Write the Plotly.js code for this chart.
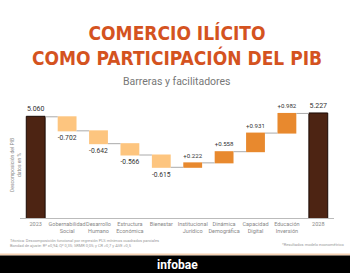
<!DOCTYPE html>
<html><head><meta charset="utf-8">
<script src="https://cdn.plot.ly/plotly-3.0.1.min.js"></script>
<style>html,body{margin:0;padding:0;background:#fff;}#c{width:350px;height:273px;}</style>
</head><body><div id="c"></div>
<script>
const categories = ["2023","Gobernabilidad<br>Social","Desarrollo<br>Humano","Estructura<br>Económica","Bienestar","Institucional<br>Jurídico","Dinámica<br>Demográfica","Capacidad<br>Digital","Educación<br>Inversión","2028"];
const measures = ["absolute","relative","relative","relative","relative","relative","relative","relative","relative","absolute"];
const values = [5.060,-0.702,-0.642,-0.566,-0.615,0.222,0.558,0.931,0.982,5.227];
const labels = ["5.060","-0.702","-0.642","-0.566","-0.615","+0.222","+0.558","+0.931","+0.982","5.227"];

const trace = {
  type: "waterfall",
  x: categories,
  y: values,
  measure: measures,
  text: labels,
  textposition: "outside",
  textfont: {family: "Roboto, sans-serif", size: 7, color: "#333"},
  cliponaxis: false,
  width: 0.6,
  increasing: {marker: {color: "#e8892e", line: {color: "#e8892e", width: 0}}},
  decreasing: {marker: {color: "#fdc57f", line: {color: "#fdc57f", width: 0}}},
  totals: {marker: {color: "#4d2413", line: {color: "#1a0a05", width: 1}}},
  connector: {line: {color: "#aaaaaa", width: 1}},
  hoverinfo: "none"
};

const ph = 118;
const pxY = (py) => (218 - py) / ph; // page pixel y -> paper fraction

const layout = {
  width: 350, height: 273,
  margin: {l: 20, r: 16, t: 100, b: 55},
  paper_bgcolor: "#ffffff", plot_bgcolor: "#ffffff",
  showlegend: false,
  font: {family: "Roboto, sans-serif"},
  xaxis: {
    tickfont: {size: 5.5, color: "#888"},
    showgrid: false, showline: true, linecolor: "#bbbbbb", linewidth: 1,
    ticks: "", fixedrange: true, tickangle: 0
  },
  yaxis: {
    range: [0, 5.9], showgrid: false, zeroline: false, showticklabels: false,
    fixedrange: true
  },
  annotations: [
    {xref: "paper", yref: "paper", x: 0.5, xanchor: "center", y: 1, yanchor: "middle", yshift: 55, showarrow: false,
     text: "<b>COMERCIO ILÍCITO<br>COMO PARTICIPACIÓN DEL PIB</b>",
     font: {family: "DejaVu Sans Condensed, Roboto, sans-serif", size: 19, color: "#d4531f"}},
    {xref: "paper", yref: "paper", x: 0.5, xanchor: "center", y: 1, yanchor: "middle", yshift: 19, showarrow: false,
     text: "Barreras y facilitadores", font: {family: "Roboto, sans-serif", size: 10.5, color: "#777"}},
    {xref: "paper", yref: "paper", x: 0, xanchor: "center", y: pxY(165), yanchor: "middle", xshift: -5, showarrow: false,
     textangle: -90, text: "Descomposición del PIB<br>datos en %", font: {size: 5, color: "#888"}},
    {xref: "paper", yref: "paper", x: 0, xanchor: "left", y: 0, yanchor: "top", xshift: -12, yshift: -18, showarrow: false, align: "left",
     text: "Técnica: Descomposición funcional por regresión PLS mínimos cuadrados parciales<br>Bondad de ajuste: R² =0,94; Q² 0,35; SRMR 0,05; y CR >0,7 y AVE >0,5",
     font: {size: 4, color: "#999"}},
    {xref: "paper", yref: "paper", x: 1, xanchor: "right", y: 0, yanchor: "top", xshift: 12, yshift: -22, showarrow: false,
     text: "*Resultados modelo econométrico", font: {size: 4, color: "#999"}},
    {xref: "paper", yref: "paper", x: 0.5, xanchor: "center", y: pxY(264.5), yanchor: "middle", showarrow: false,
     text: "<b>infobae</b>", font: {family: "Roboto, sans-serif", size: 12, color: "#ffffff"}}
  ],
  shapes: [
    {type: "rect", xref: "paper", yref: "paper", x0: -20/314, x1: 336/314, y0: pxY(253.5), y1: pxY(255.5), line: {width: 0}, fillcolor: "#f6d2b3"},
    {type: "rect", xref: "paper", yref: "paper", x0: -20/314, x1: 336/314, y0: pxY(255.5), y1: pxY(274), line: {width: 0}, fillcolor: "#000000"}
  ]
};
Plotly.newPlot("c", [trace], layout, {displayModeBar: false, staticPlot: true});
</script></body></html>
